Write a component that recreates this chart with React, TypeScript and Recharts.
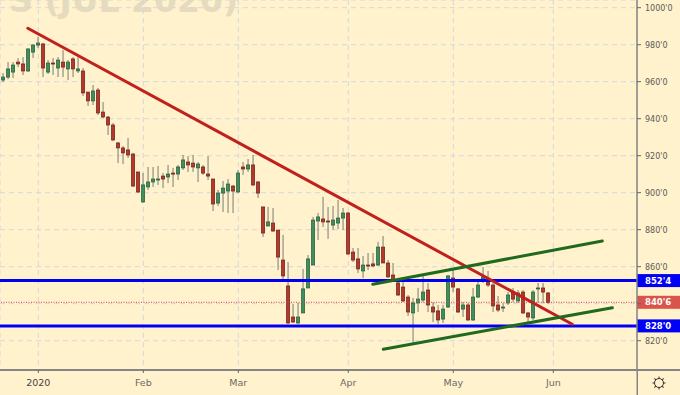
import { ComposedChart, Bar, XAxis, YAxis, CartesianGrid, ReferenceLine } from "recharts"

// daily soybean candles, Dec 20 2019 .. May 29 2020
const opens = [
  960.9, 962.5, 965.2, 970.6, 969.6, 965.8, 976.0, 979.8, 980.4, 965.2,
  970.1, 967.4, 970.6, 966.9, 972.3, 965.8, 965.8, 954.4, 949.6, 955.5,
  943.6, 940.9, 936.6, 926.9, 924.2, 923.1, 920.9, 911.2, 895.0, 903.1,
  905.8, 906.9, 909.0, 908.5, 910.6, 910.1, 913.4, 916.6, 916.0, 913.4,
  913.9, 910.1, 907.4, 894.4, 899.8, 900.9, 903.6, 900.4, 913.9, 912.8,
  915.0, 905.8, 892.3, 882.0, 883.6, 879.8, 863.6, 849.6, 832.8, 829.6,
  835.0, 848.5, 860.9, 884.7, 885.8, 884.7, 882.5, 883.6, 886.3, 889.0,
  867.9, 864.2, 857.7, 860.9, 861.5, 860.9, 870.6, 862.0, 855.5, 851.2,
  849.0, 843.6, 835.0, 840.4, 842.0, 847.4, 838.2, 836.1, 831.7, 838.2,
  853.9, 848.0, 837.1, 839.3, 831.2, 843.6, 853.4, 853.4, 850.1, 839.3,
  837.7, 840.4, 846.3, 841.5, 846.3, 835.0, 832.3, 848.0, 848.5, 845.8,
]
const highs = [
  964.7, 970.6, 970.6, 972.8, 973.3, 978.0, 980.4, 984.2, 980.9, 971.7,
  972.8, 973.3, 977.1, 971.7, 973.3, 973.3, 967.4, 954.4, 958.2, 956.6,
  949.0, 941.5, 937.7, 927.4, 925.2, 929.6, 921.5, 911.2, 910.6, 913.9,
  913.9, 914.4, 910.6, 915.0, 913.4, 915.0, 920.4, 919.8, 920.4, 916.6,
  915.0, 919.8, 907.4, 901.5, 906.3, 907.4, 904.2, 912.3, 916.6, 918.2,
  920.4, 906.3, 892.3, 892.3, 891.7, 879.8, 877.2, 862.5, 839.8, 840.4,
  858.8, 866.3, 886.9, 889.0, 897.7, 892.3, 892.8, 896.1, 891.7, 889.6,
  870.1, 870.1, 865.8, 867.4, 867.4, 873.4, 876.6, 863.6, 862.0, 852.8,
  852.8, 844.7, 843.1, 848.5, 855.5, 851.2, 840.9, 839.3, 839.3, 855.5,
  858.2, 848.5, 840.9, 840.4, 848.5, 852.8, 859.8, 857.7, 851.2, 844.2,
  840.4, 846.3, 848.5, 847.4, 847.4, 835.5, 847.4, 851.2, 851.2, 846.3,
]
const lows = [
  959.8, 961.4, 962.0, 967.9, 963.6, 965.2, 972.8, 978.2, 962.5, 964.2,
  963.6, 962.5, 962.5, 960.9, 962.5, 964.7, 952.3, 946.9, 947.4, 942.0,
  940.4, 931.2, 927.9, 916.0, 915.5, 918.7, 903.1, 899.8, 894.5, 901.5,
  903.1, 904.2, 902.5, 905.2, 903.1, 906.9, 912.3, 911.2, 911.2, 905.8,
  909.6, 906.9, 890.1, 892.8, 889.6, 889.0, 889.0, 899.8, 909.6, 911.2,
  903.6, 897.1, 876.1, 882.0, 878.8, 858.2, 853.0, 829.0, 829.6, 829.0,
  835.0, 848.5, 860.9, 874.4, 881.5, 875.0, 879.8, 880.4, 879.8, 866.3,
  862.5, 856.6, 853.9, 858.2, 859.8, 860.4, 862.0, 853.9, 851.8, 844.2,
  840.9, 833.4, 818.2, 835.5, 840.9, 835.5, 830.1, 829.0, 829.6, 837.7,
  846.3, 835.0, 832.8, 830.7, 830.7, 843.1, 851.2, 849.0, 835.5, 835.5,
  835.5, 839.3, 840.9, 840.4, 834.4, 829.6, 831.2, 840.4, 840.4, 839.8,
]
const closes = [
  962.5, 966.9, 969.0, 969.6, 965.8, 977.7, 979.8, 980.9, 967.4, 970.1,
  969.6, 971.7, 967.9, 970.6, 966.9, 966.9, 953.9, 949.6, 955.0, 943.1,
  940.9, 936.6, 928.5, 924.2, 921.5, 920.4, 903.6, 900.4, 904.2, 905.8,
  907.4, 907.4, 907.4, 910.1, 910.1, 913.9, 917.7, 915.0, 913.9, 915.5,
  910.6, 909.0, 893.9, 899.8, 902.5, 904.7, 900.9, 910.6, 912.8, 915.0,
  904.2, 899.8, 878.2, 884.2, 879.3, 865.2, 855.0, 829.6, 830.1, 832.8,
  848.0, 864.2, 885.2, 886.9, 884.2, 884.2, 885.2, 886.3, 889.0, 866.9,
  863.6, 858.8, 860.9, 860.4, 860.4, 870.6, 862.0, 854.5, 852.8, 844.7,
  841.5, 835.5, 840.4, 842.5, 846.3, 839.3, 835.5, 831.2, 837.1, 855.0,
  849.0, 835.5, 839.3, 831.2, 843.6, 850.1, 854.5, 850.1, 838.8, 836.6,
  838.2, 844.7, 842.5, 845.8, 835.0, 832.8, 846.3, 848.5, 846.3, 840.75,
]

const monthTicks = [7, 28, 47, 69, 90, 110]
const monthLabels = ["2020", "Feb", "Mar", "Apr", "May", "Jun"]
const priceTicks = [820, 840, 860, 880, 900, 920, 940, 960, 980, 1000]

const supportLevels = [852.5, 828]
const supportLabels = ["852'4", "828'0"]
const lastPrice = 840.75
const lastLabel = "840'6"

// trend lines: [index, price] pairs
const downTrend = [[4.9, 988.9], [113.8, 828.9]]
const upperChannel = [[73.9, 850.5], [119.8, 873.9]]
const lowerChannel = [[76, 815.4], [121.8, 837.8]]

const BG = "#fff2cc"
const FONT = "DejaVu Sans"

const data = opens.map((o, i) => ({
  i,
  o,
  h: highs[i],
  l: lows[i],
  c: closes[i],
  range: [lows[i], highs[i]],
}))

function Candle(props: any) {
  const { x, y, width, height, payload } = props
  if (!payload) return null
  const { o, h, l, c } = payload
  const top = Math.min(y, y + height)
  const bot = Math.max(y, y + height)
  const span = h - l || 1
  const py = (v: number) => top + ((h - v) / span) * (bot - top)
  const cx = x + width / 2
  const up = c >= o
  const bTop = py(Math.max(o, c))
  const bBot = py(Math.min(o, c))
  return (
    <g>
      <line x1={cx} x2={cx} y1={top} y2={bot} stroke="#7a7a7a" strokeWidth={1} />
      <rect
        x={cx - 1.6}
        y={bTop}
        width={3.2}
        height={Math.max(bBot - bTop, 1)}
        fill={up ? "#3f8f5e" : "#b5382b"}
        stroke={up ? "#245c3a" : "#70201a"}
        strokeWidth={0.7}
      />
    </g>
  )
}

function PriceTag(props: any) {
  const { viewBox, text, color } = props
  if (!viewBox) return null
  const x = viewBox.x + viewBox.width
  const y = viewBox.y
  return (
    <g>
      <rect x={x} y={y - 6.5} width={43} height={13} fill={color} />
      <text x={x + 8} y={y} dy="0.35em" fill="#fff" fontSize={8.5} fontWeight="bold" fontFamily={FONT}>
        {text}
      </text>
    </g>
  )
}

function MonthTick(props: any) {
  const { x, y, payload } = props
  const k = monthTicks.indexOf(payload.value)
  const label = monthLabels[k] ?? ""
  return (
    <text x={x} y={y} dy="0.71em" textAnchor="middle" fontSize={9.5} fontFamily={FONT} fill={k === 0 ? "#444" : "#6a6a6a"}>
      {label}
    </text>
  )
}

const seg = (p: number[][]) => [
  { x: p[0][0], y: p[0][1] },
  { x: p[1][0], y: p[1][1] },
]

export default function App() {
  return (
    <div style={{ position: "absolute", left: 0, top: 0, width: 680, height: 395, background: BG, overflow: "hidden" }}>
      <svg width={680} height={395} style={{ position: "absolute", left: 0, top: 0 }}>
        <text x={238} y={12} textAnchor="end" fontSize={33} fontWeight="bold" fontFamily={FONT} fill="#e6dbbc">
          S (JUL 2020)
        </text>
      </svg>
      <div style={{ position: "absolute", left: 0, top: 0 }}>
        <ComposedChart width={680} height={395} data={data} margin={{ top: 0, right: 0, bottom: 0, left: 0 }}>
          <CartesianGrid stroke="#d3d8df" strokeDasharray="5 4" />
          <XAxis
            dataKey="i"
            type="number"
            domain={[-0.66, 126.74]}
            allowDataOverflow
            ticks={monthTicks}
            height={25}
            tickSize={3}
            tickMargin={6}
            tick={<MonthTick />}
            axisLine={{ stroke: "#858585", strokeWidth: 2 }}
            tickLine={{ stroke: "#666" }}
          />
          <YAxis
            orientation="right"
            type="number"
            domain={[804.16, 1004.16]}
            allowDataOverflow
            ticks={priceTicks}
            width={43}
            tickSize={4}
            tickMargin={4}
            tickFormatter={(v: number) => (v === 840 ? "" : `${v}'0`)}
            tick={{ fontSize: 8, fontFamily: FONT, fill: "#5a5a5a" }}
            axisLine={{ stroke: "#858585", strokeWidth: 1.5 }}
            tickLine={{ stroke: "#666" }}
          />
          <Bar dataKey="range" barSize={5} shape={<Candle />} isAnimationActive={false} />
          <ReferenceLine y={lastPrice} stroke="#d9443a" strokeWidth={1} strokeDasharray="1 1.5" label={<PriceTag text={lastLabel} color="#d9544a" />} />
          {supportLevels.map((v, k) => (
            <ReferenceLine key={v} y={v} stroke="#0000f5" strokeWidth={3} label={<PriceTag text={supportLabels[k]} color="#0000f5" />} />
          ))}
          <ReferenceLine segment={seg(downTrend)} stroke="#c0201e" strokeWidth={3} strokeLinecap="round" />
          <ReferenceLine segment={seg(upperChannel)} stroke="#1f6a1f" strokeWidth={3} strokeLinecap="round" />
          <ReferenceLine segment={seg(lowerChannel)} stroke="#1f6a1f" strokeWidth={3} strokeLinecap="round" />
        </ComposedChart>
      </div>
      <svg width={680} height={395} style={{ position: "absolute", left: 0, top: 0, pointerEvents: "none" }}>
        <line x1={637} x2={680} y1={370} y2={370} stroke="#858585" strokeWidth={2} />
        <line x1={637.25} x2={637.25} y1={370} y2={395} stroke="#858585" strokeWidth={1.5} />
        <g transform="translate(659,383)" stroke="#333" strokeWidth={1} fill="none">
          <circle r={4.5} />
          {[0, 45, 90, 135, 180, 225, 270, 315].map((a) => (
            <line key={a} x1={0} y1={-4.5} x2={0} y2={-6.5} transform={`rotate(${a})`} />
          ))}
        </g>
      </svg>
    </div>
  )
}
